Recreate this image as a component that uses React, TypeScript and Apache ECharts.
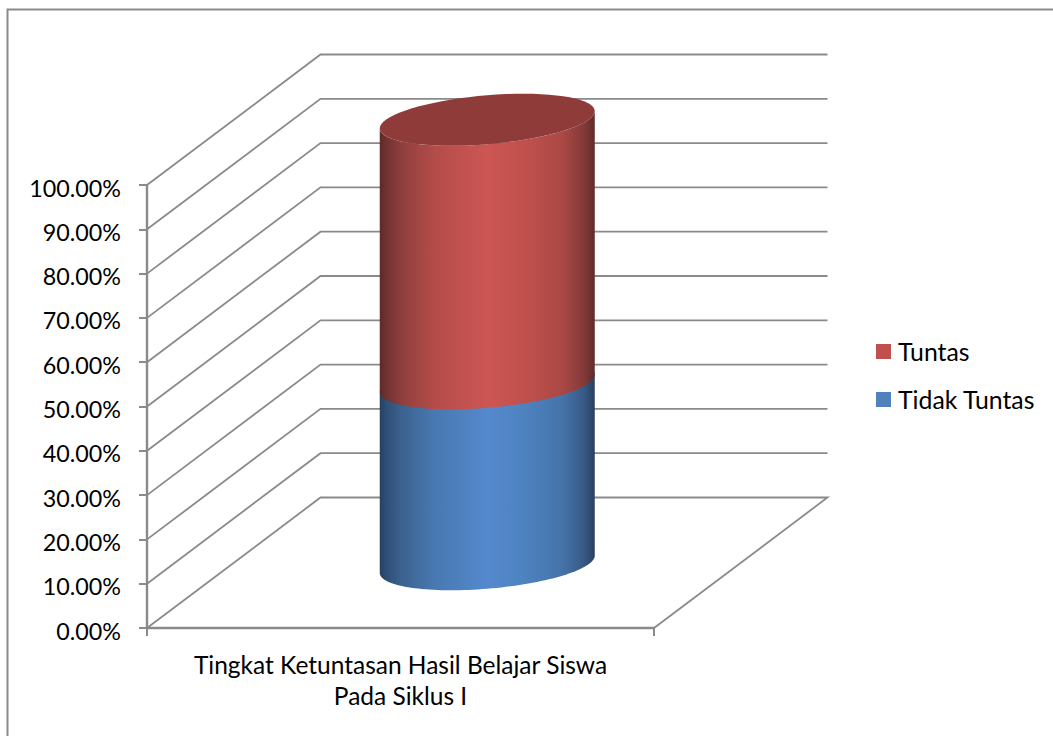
import React, { useEffect, useRef } from "react";
import * as echarts from "echarts";

const categories = ["Tingkat Ketuntasan Hasil Belajar Siswa\nPada Siklus I"];
const tidakTuntas = [0.405];
const tuntas = [0.595];
const wallTicks = [0, 0.1, 0.2, 0.3, 0.4, 0.5, 0.6, 0.7, 0.8, 0.9, 1];
const legendNames = ["Tuntas", "Tidak Tuntas"];

const FONT = "Lato";
const GRAY = "#8a8a8a";
const DEPTH_X = 173.5;
const DEPTH_Y = 130.5;
const RADIUS_X = 107.5;
const TILT = 8.7;
const RADIUS_Y = 24.5;
const BASE_DROP = 1.5;

const redStops = [
  [0, "#5c2a29"], [0.03, "#6f3230"], [0.1, "#8e3f3d"], [0.25, "#b34c49"],
  [0.5, "#cd5654"], [0.68, "#c0504d"], [0.85, "#aa4845"], [0.95, "#833a38"], [1, "#5f2b2a"],
];
const blueStops = [
  [0, "#27405f"], [0.03, "#2f4e76"], [0.1, "#3b628f"], [0.25, "#4878af"],
  [0.5, "#5589ce"], [0.68, "#4d82bf"], [0.85, "#4573a8"], [0.95, "#375a86"], [1, "#283f5e"],
];
const grad = (stops: any[]) => ({
  type: "linear", x: 0, y: 0, x2: 1, y2: 0,
  colorStops: stops.map(([offset, color]) => ({ offset, color })),
});

function arc(cx: number, cy: number, from: number, to: number) {
  const pts: number[][] = [];
  const n = 72;
  for (let i = 0; i <= n; i++) {
    const t = from + ((to - from) * i) / n;
    pts.push([cx + RADIUS_X * Math.cos(t), cy - TILT * Math.cos(t) + RADIUS_Y * Math.sin(t)]);
  }
  return pts;
}

function cylinderPart(stops: any[], capFill: string | null, fullBack: boolean) {
  return (params: any, api: any) => {
    const bottom = api.coord([api.value(0), api.value(1)]);
    const top = api.coord([api.value(0), api.value(2)]);
    const cx = bottom[0] + DEPTH_X / 2;
    const yb = bottom[1] - DEPTH_Y / 2 + (api.value(1) === 0 ? BASE_DROP : 0);
    const yt = top[1] - DEPTH_Y / 2;
    const topEdge = fullBack ? arc(cx, yt, Math.PI, 2 * Math.PI) : arc(cx, yt, Math.PI, 0);
    const bottomEdge = arc(cx, yb, 0, Math.PI);
    const children: any[] = [
      { type: "polygon", shape: { points: [...topEdge, ...bottomEdge] }, style: { fill: grad(stops) } },
    ];
    if (capFill) {
      children.push({ type: "polygon", shape: { points: arc(cx, yt, 0, 2 * Math.PI) }, style: { fill: capFill } });
    }
    return { type: "group", children };
  };
}

function renderWall(params: any, api: any) {
  const cs = params.coordSys;
  const v = api.value(1);
  const y = api.coord([0, v])[1];
  const pts = [
    [cs.x, y],
    [cs.x + DEPTH_X, y - DEPTH_Y],
    [cs.x + cs.width + DEPTH_X, y - DEPTH_Y],
  ];
  if (v === 0) pts.push([cs.x + cs.width, y]);
  return { type: "polyline", shape: { points: pts }, style: { stroke: GRAY, lineWidth: 1.8, fill: "none" } };
}

export default function App() {
  const ref = useRef<HTMLDivElement>(null);
  useEffect(() => {
    const chart = echarts.init(ref.current!, null, { renderer: "svg" });
    chart.setOption({
      animation: false,
      backgroundColor: "#ffffff",
      textStyle: { fontFamily: FONT },
      grid: { left: 147, top: 185, width: 507, height: 443 },
      graphic: [
        {
          type: "polyline",
          shape: { points: [[7.5, 740], [7.5, 9.5], [1060, 9.5]] },
          style: { stroke: GRAY, lineWidth: 2, fill: "none" },
        },
      ],
      legend: {
        orient: "vertical",
        left: 876,
        top: 339,
        padding: 0,
        itemWidth: 15,
        itemHeight: 15,
        itemGap: 23,
        icon: "rect",
        data: legendNames,
        selectedMode: false,
        textStyle: { fontFamily: FONT, fontSize: 24.8, lineHeight: 25, color: "#000", padding: [0, 0, 0, 2] },
      },
      xAxis: {
        type: "category",
        data: categories,
        axisLine: { lineStyle: { color: GRAY, width: 2.4 } },
        axisTick: { show: true, alignWithLabel: false, length: 8, lineStyle: { color: GRAY, width: 2 } },
        axisLabel: { color: "#000", fontFamily: FONT, fontSize: 24.5, margin: 21, lineHeight: 31, align: "center" },
      },
      yAxis: {
        type: "value",
        min: 0,
        max: 1,
        interval: 0.1,
        splitLine: { show: false },
        axisLine: { show: true, lineStyle: { color: GRAY, width: 2.4 } },
        axisTick: { show: true, length: 8, lineStyle: { color: GRAY, width: 2 } },
        axisLabel: {
          color: "#000", fontFamily: FONT, fontSize: 23.3, margin: 26,
          formatter: (v: number) => "{a|" + (v * 100).toFixed(2) + "%}",
          rich: { a: { color: "#000", fontFamily: FONT, fontSize: 23.3, padding: [5, 0, 0, 0] } },
        },
      },
      series: [
        {
          type: "custom", name: "walls", silent: true, z: 1,
          data: wallTicks.map((v) => [0, v]),
          encode: { x: 0, y: 1 },
          renderItem: renderWall,
        },
        {
          type: "custom", name: "Tidak Tuntas", z: 2,
          itemStyle: { color: "#4f81bd" },
          data: tidakTuntas.map((v, i) => [i, 0, v]),
          encode: { x: 0, y: [1, 2] },
          renderItem: cylinderPart(blueStops, null, true),
        },
        {
          type: "custom", name: "Tuntas", z: 3,
          itemStyle: { color: "#c0504d" },
          data: tuntas.map((v, i) => [i, tidakTuntas[i], tidakTuntas[i] + v]),
          encode: { x: 0, y: [1, 2] },
          renderItem: cylinderPart(redStops, "#8f3b3a", false),
        },
      ],
    });
    return () => chart.dispose();
  }, []);
  return <div ref={ref} style={{ position: "fixed", left: 0, top: 0, width: 1053, height: 736 }} />;
}
